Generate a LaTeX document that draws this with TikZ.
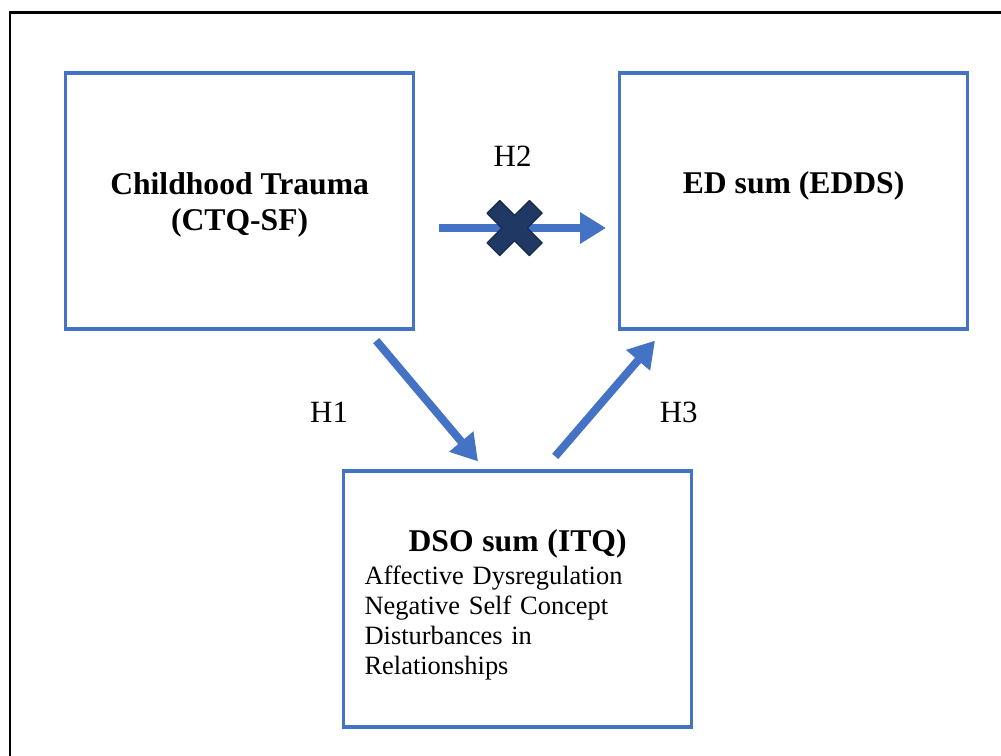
\documentclass[tikz,border=0pt]{standalone}
\usepackage{fontspec}
\setmainfont{Liberation Serif}
\usetikzlibrary{arrows.meta, positioning, calc}
\definecolor{pathblue}{RGB}{68, 114, 196}
\definecolor{crossnavy}{RGB}{31, 56, 100}

\begin{document}
\begin{tikzpicture}[
    box/.style={rectangle, draw=pathblue, line width=0.08cm, minimum width=8.7cm, minimum height=6.4cm, align=center, inner sep=0pt, font=\fontsize{22.5}{25.6}\selectfont\bfseries},
    arrow/.style={-{Triangle[length=0.65cm, width=0.75cm]}, line width=0.2cm, draw=pathblue},
    hyp/.style={font=\fontsize{22}{25}\selectfont},
    xmark/.style={fill=crossnavy, draw=crossnavy!75!black, line width=0.03cm, line join=round}
]
\useasboundingbox (0,0) rectangle (25.025,-18.875);
\clip (0,0) rectangle (25.025,-18.875);
\draw[line width=0.07cm] (0.25,-0.31) rectangle (25.6,-19.5);
\node[box] (trauma) at (5.99,-5.025) {\rule{0pt}{21pt}Childhood Trauma\\(CTQ-SF)};
\node[box, right=5.07cm of trauma] (ed) {ED sum (EDDS)\\\mbox{}};
\node[box, text width=7.65cm, align=left, font=\fontsize{18.8}{21.3}\selectfont] (dso) at (12.94,-14.975) {\makebox[7.65cm]{\rule{0pt}{24pt}\fontsize{22.5}{25.6}\selectfont\bfseries DSO sum (ITQ)}\\[2.2pt]Affective Dysregulation\\Negative Self Concept\\Disturbances in\\Relationships};
\draw[arrow, shorten <=0.585cm, shorten >=0.3cm] ([yshift=-0.675cm]trauma.east) -- node[hyp, xshift=-0.1cm, yshift=1.8cm] {H2} coordinate[pos=0.49] (blocked) ([yshift=-0.675cm]ed.west);
\draw[arrow] ([shift={(-0.975,-0.25)}]trauma.south east) -- node[hyp, xshift=-2.45cm, yshift=-0.28cm] {H1} ([shift={(-0.99,0.2)}]dso.north);
\draw[arrow] ([shift={(0.94,0.325)}]dso.north) -- node[hyp, xshift=1.84cm, yshift=-0.34cm] {H3} ([shift={(0.925,-0.25)}]ed.south west);
\begin{scope}[shift={(blocked)}, rotate=45]
\filldraw[xmark] (0.225,0.225) -- (0.75,0.225) -- (0.75,-0.225) -- (0.225,-0.225) -- (0.225,-0.75) -- (-0.225,-0.75) -- (-0.225,-0.225) -- (-0.75,-0.225) -- (-0.75,0.225) -- (-0.225,0.225) -- (-0.225,0.75) -- (0.225,0.75) -- cycle;
\end{scope}
\end{tikzpicture}
\end{document}
